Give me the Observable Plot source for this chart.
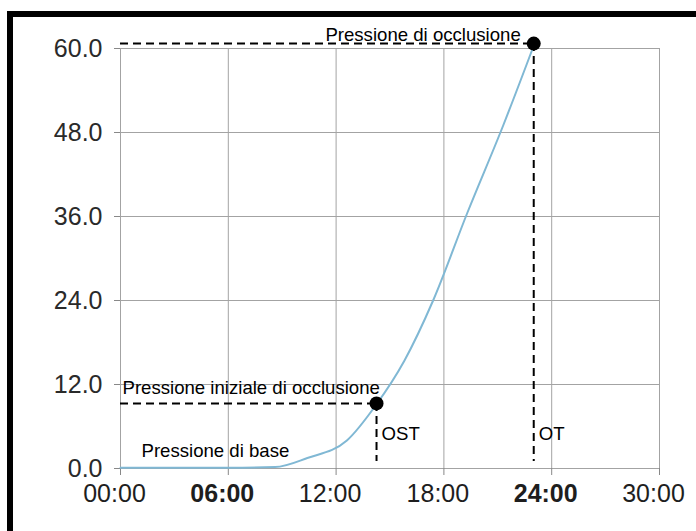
<!DOCTYPE html>
<html><head><meta charset="utf-8">
<script src="https://cdn.jsdelivr.net/npm/d3@7"></script>
<script src="https://cdn.jsdelivr.net/npm/@observablehq/plot@0.6"></script>
<style>
body{margin:0;background:#fff;}
#wrap{position:relative;width:696px;height:531px;overflow:hidden;background:#fff;}
#wrap svg{position:absolute;left:0;top:0;}
#frame{position:absolute;left:7px;top:11px;right:-10px;bottom:-10px;border-left:6px solid #000;border-top:6px solid #000;pointer-events:none;}
</style></head><body><div id="wrap"></div>
<script>
// curve: time (minutes) vs pressure
const timeMin  = [0, 3, 6, 8.6, 10.4, 12.6, 14.2, 15.8, 17.4, 19.3, 21.3, 23.0];
const pressure = [0.1, 0.1, 0.1, 0.2, 1.5, 4.0, 9.0, 15.4, 24.0, 36.5, 49.0, 60.4];
// axes
const xTicks = [0, 6, 12, 18, 24, 30];
const xTickLabels = ["00:00", "06:00", "12:00", "18:00", "24:00", "30:00"];
const yTicks = [0, 12, 24, 36, 48, 60];
const yTickLabels = ["0.0", "12.0", "24.0", "36.0", "48.0", "60.0"];
// markers
const markerNames = ["OST", "OT"];
const markerTime = [14.25, 23.0];
const markerPressure = [9.3, 60.7];
const guideBottom = 1.0;
// annotation texts
const labelOcclusion = "Pressione di occlusione";
const labelInitial = "Pressione iniziale di occlusione";
const labelBase = "Pressione di base";

const curveData = timeMin.map((t, i) => ({t, p: pressure[i]}));
const markers = markerNames.map((n, i) => ({n, t: markerTime[i], p: markerPressure[i]}));

const gridColor = "#a3a3a3";
const dash = {stroke: "#000", strokeWidth: 2, strokeDasharray: "8,5"};
const annot = {fontSize: 18.6, fill: "#000", lineAnchor: "middle"};

const chart = Plot.plot({
  width: 696, height: 531,
  marginLeft: 120, marginRight: 37, marginTop: 48, marginBottom: 63,
  x: {domain: [0, 30]},
  y: {domain: [0, 60]},
  style: {fontFamily: "'Liberation Sans', Arial, sans-serif", background: "transparent", overflow: "visible"},
  marks: [
    Plot.gridX(xTicks, {stroke: gridColor, strokeOpacity: 1, strokeWidth: 1}),
    Plot.gridY(yTicks, {stroke: gridColor, strokeOpacity: 1, strokeWidth: 1}),
    Plot.ruleX([0], {stroke: gridColor, strokeWidth: 1}),
    Plot.ruleY([0], {stroke: gridColor, strokeWidth: 1}),
    Plot.axisY({ticks: yTicks, tickSize: 6, tickPadding: 12, label: null,
      tickFormat: d => yTickLabels[yTicks.indexOf(d)],
      fontSize: 25, stroke: "#888", fill: "#2a2a2a"}),
    Plot.axisX({ticks: xTicks, tickSize: 7, tickPadding: 9, label: null,
      tickFormat: d => xTickLabels[xTicks.indexOf(d)],
      fontSize: 25, stroke: "#888", fill: "#1e1e1e"}),
    Plot.ruleY(markers, {y: "p", x1: 0, x2: "t", ...dash}),
    Plot.ruleX(markers, {x: "t", y1: "p", y2: guideBottom, ...dash}),
    Plot.line(curveData, {x: "t", y: "p", stroke: "#80b8d4", strokeWidth: 2, curve: "monotone-x"}),
    Plot.dot(markers, {x: "t", y: "p", r: 7, fill: "#000", stroke: "none"}),
    Plot.text([labelOcclusion], {x: markerTime[1], y: markerPressure[1], dx: -13, dy: -9, textAnchor: "end", ...annot}),
    Plot.text([labelInitial], {x: 0, y: markerPressure[0], dx: 2, dy: -15, textAnchor: "start", ...annot}),
    Plot.text([labelBase], {x: 0, y: 0, dx: 21, dy: -17, textAnchor: "start", ...annot}),
    Plot.text(markers, {x: "t", y: 0, text: "n", textAnchor: "start", dx: 5, dy: -34, ...annot})
  ]
});

// x tick labels sit slightly left of their ticks in the reference; 06:00 and 24:00 are heavier
const xLabels = d3.select(chart).selectAll('g[aria-label="x-axis tick label"] text');
xLabels.attr("dx", -6);
xLabels.filter((d, i, nodes) => ["06:00", "24:00"].includes(nodes[i].textContent))
  .attr("font-weight", "bold");

const wrap = document.getElementById("wrap");
wrap.appendChild(chart);
const frame = document.createElement("div");
frame.id = "frame";
wrap.appendChild(frame);
</script>
</body></html>
